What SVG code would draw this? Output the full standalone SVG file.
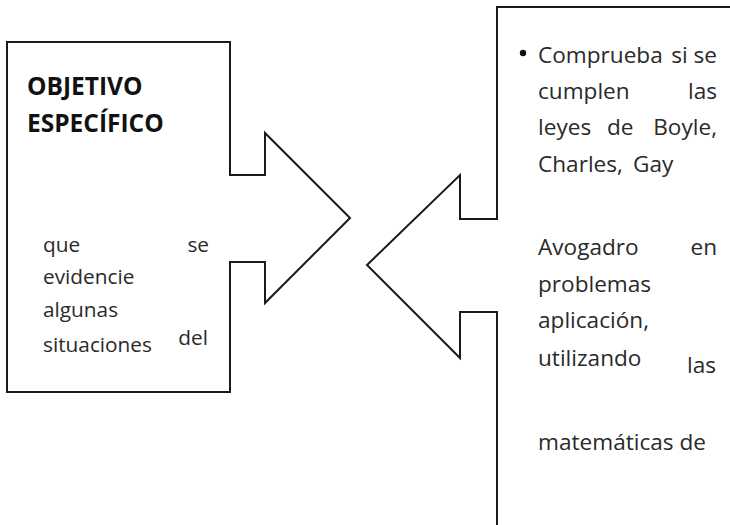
<svg xmlns="http://www.w3.org/2000/svg" width="730" height="525" viewBox="0 0 730 525">
<style>
.shape{fill:#fff;stroke:#1a1a1a;stroke-width:2;stroke-linejoin:miter}
.h{font-family:"Open Sans","Liberation Sans",sans-serif;font-weight:bold;font-size:24.5px;fill:#111}
.t{font-family:"Open Sans","Liberation Sans",sans-serif;font-size:20.8px;fill:#2a2a2a}
.r{font-family:"Open Sans","Liberation Sans",sans-serif;font-size:22.6px;fill:#2a2a2a}
</style>
<rect width="730" height="525" fill="#fff"/>
<g id="objetivo">
<polygon class="shape" points="7,42 230,42 230,175 265,175 265,133 350,218 265,303 265,262 230,262 230,392 7,392"/>
<text class="h" x="27" y="95">OBJETIVO</text>
<text class="h" x="27" y="132">ESPECÍFICO</text>
<text class="t" x="43" y="252">que</text>
<text class="t" x="209" y="252" text-anchor="end">se</text>
<text class="t" x="43" y="284">evidencie</text>
<text class="t" x="43" y="317">algunas</text>
<text class="t" x="43" y="352">situaciones</text>
<text class="t" x="208" y="345" text-anchor="end">del</text>
</g>
<g id="comprueba">
<polygon class="shape" points="497,530 497,312 460,312 460,358 367,265 460,175 460,219 497,219 497,7 740,7 740,530"/>
<circle cx="523" cy="53" r="3.2" fill="#111"/>
<text class="r" x="538" y="63">Comprueba</text>
<text class="r" x="717" y="63" text-anchor="end">si se</text>
<text class="r" x="538" y="99">cumplen</text>
<text class="r" x="717" y="99" text-anchor="end">las</text>
<text class="r" x="538" y="135">leyes</text>
<text class="r" x="607" y="135">de</text>
<text class="r" x="717" y="135" text-anchor="end">Boyle,</text>
<text class="r" x="538" y="172">Charles,</text>
<text class="r" x="633" y="172">Gay</text>
<text class="r" x="538" y="255">Avogadro</text>
<text class="r" x="717" y="255" text-anchor="end">en</text>
<text class="r" x="538" y="292">problemas</text>
<text class="r" x="538" y="328">aplicación,</text>
<text class="r" x="538" y="366">utilizando</text>
<text class="r" x="687" y="373">las</text>
<text class="r" x="538" y="450">matemáticas de</text>
</g>
</svg>
